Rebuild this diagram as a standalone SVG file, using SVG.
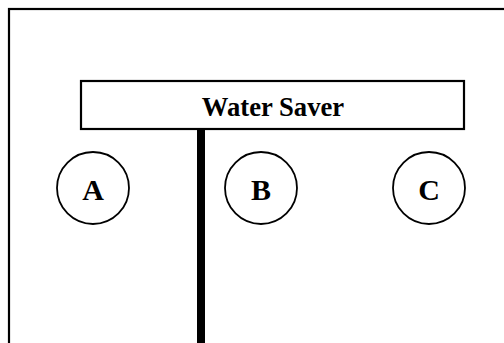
<svg xmlns="http://www.w3.org/2000/svg" width="504" height="343" viewBox="0 0 504 343">
<style>
.box{fill:#fff;stroke:#000;stroke-width:2.2}
.node{fill:#fff;stroke:#000;stroke-width:1.8}
.lbl{font-family:"Liberation Serif","Times New Roman",serif;font-weight:bold;font-size:26.67px;fill:#000;text-anchor:middle}
.big{font-size:30px}
</style>
<rect width="504" height="343" fill="#fff"/>
<rect id="frame" x="9" y="9" width="520" height="360" fill="none" stroke="#000" stroke-width="2.2"/>
<g id="connectors">
<line x1="201" y1="129" x2="201" y2="343" stroke="#000" stroke-width="8"/>
</g>
<g id="water-saver">
<rect class="box" x="81" y="81" width="383" height="48"/>
<text class="lbl" x="273" y="116">Water Saver</text>
</g>
<g id="A">
<circle class="node" cx="93" cy="188" r="36"/>
<text class="lbl big" x="93" y="200">A</text>
</g>
<g id="B">
<circle class="node" cx="261" cy="188" r="36"/>
<text class="lbl big" x="261" y="200">B</text>
</g>
<g id="C">
<circle class="node" cx="429" cy="188" r="36"/>
<text class="lbl big" x="429" y="200">C</text>
</g>
</svg>
